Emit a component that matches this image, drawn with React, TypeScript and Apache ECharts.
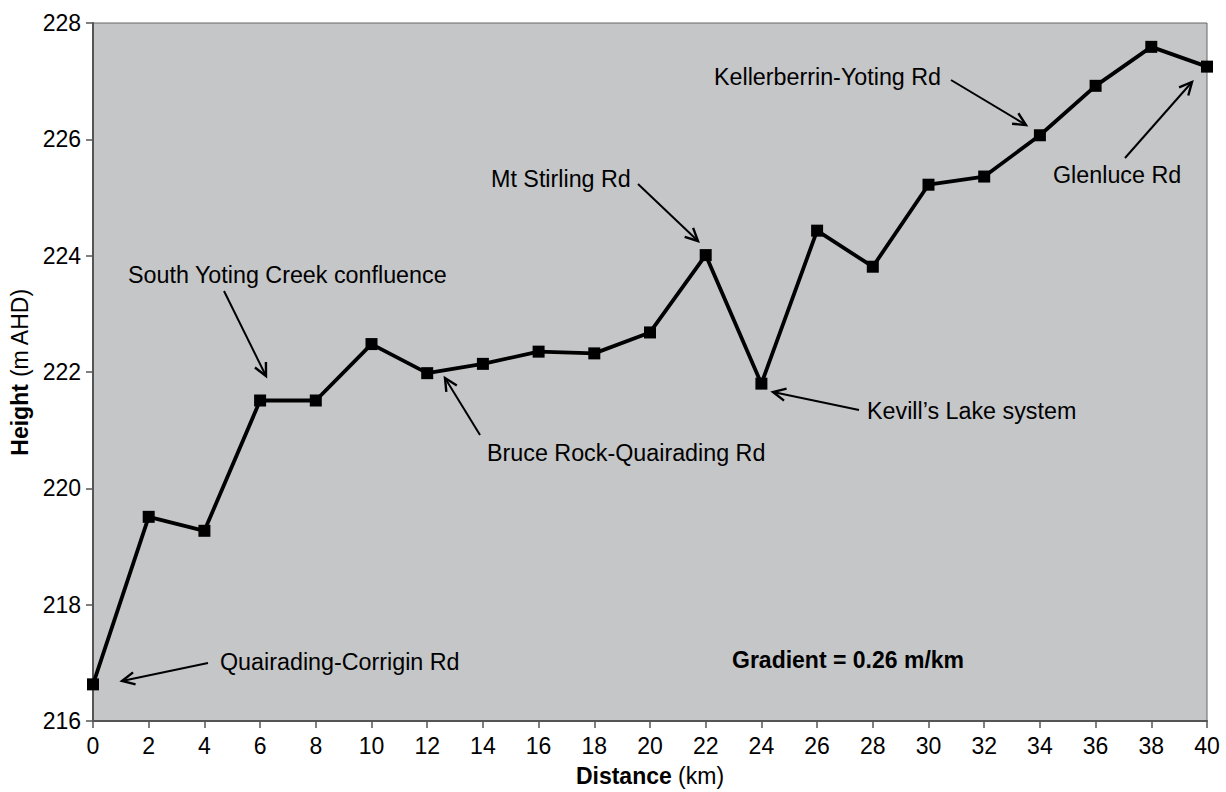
import React, { useEffect, useRef } from "react";
import * as echarts from "echarts";

const distances = [0, 2, 4, 6, 8, 10, 12, 14, 16, 18, 20, 22, 24, 26, 28, 30, 32, 34, 36, 38, 40];
const heights = [216.63, 219.51, 219.27, 221.51, 221.51, 222.48, 221.98, 222.14, 222.35, 222.32, 222.68, 224.01, 221.8, 224.43, 223.81, 225.22, 225.36, 226.07, 226.92, 227.59, 227.25];

const labels = [
  { text: "Quairading-Corrigin Rd", x: 220, y: 662 },
  { text: "South Yoting Creek confluence", x: 128, y: 275 },
  { text: "Bruce Rock-Quairading Rd", x: 487, y: 453 },
  { text: "Mt Stirling Rd", x: 491, y: 179 },
  { text: "Kevill\u2019s Lake system", x: 867, y: 411 },
  { text: "Kellerberrin-Yoting Rd", x: 714, y: 77 },
  { text: "Glenluce Rd", x: 1053, y: 175 },
];

const arrows = [
  { from: [208, 663], to: [122, 681] },
  { from: [224, 291], to: [266, 376] },
  { from: [480, 435], to: [445, 378] },
  { from: [638, 184], to: [698, 241] },
  { from: [859, 410], to: [773, 392] },
  { from: [951, 80], to: [1026, 125] },
  { from: [1125, 158], to: [1192, 82] },
];

const FONT = "Arial, 'Liberation Sans', sans-serif";

function arrowElements(from: number[], to: number[]) {
  const dx = to[0] - from[0];
  const dy = to[1] - from[1];
  const len = Math.sqrt(dx * dx + dy * dy);
  const ux = dx / len;
  const uy = dy / len;
  const L = 14;
  const ang = (26 * Math.PI) / 180;
  const c = Math.cos(ang);
  const s = Math.sin(ang);
  const b1 = [to[0] - L * (ux * c - uy * s), to[1] - L * (uy * c + ux * s)];
  const b2 = [to[0] - L * (ux * c + uy * s), to[1] - L * (uy * c - ux * s)];
  return [
    {
      type: "line",
      shape: { x1: from[0], y1: from[1], x2: to[0], y2: to[1] },
      style: { stroke: "#000", lineWidth: 2 },
      z: 100,
    },
    {
      type: "polyline",
      shape: { points: [b1, to, b2] },
      style: { stroke: "#000", lineWidth: 2.4, fill: null },
      z: 100,
    },
  ];
}

export default function App() {
  const ref = useRef<HTMLDivElement>(null);
  useEffect(() => {
    if (!ref.current) return;
    const chart = echarts.init(ref.current, null, { renderer: "svg" });
    const graphics: any[] = [];
    labels.forEach((l) => {
      graphics.push({
        type: "text",
        x: l.x,
        y: l.y,
        z: 100,
        style: {
          text: l.text,
          fill: "#000",
          fontSize: 23.3,
          fontFamily: FONT,
          align: "left",
          verticalAlign: "middle",
        },
      });
    });
    graphics.push({
      type: "text",
      x: 732,
      y: 660,
      z: 100,
      style: {
        text: "Gradient = 0.26 m/km",
        fill: "#000",
        fontSize: 23,
        fontWeight: "bold",
        fontFamily: FONT,
        align: "left",
        verticalAlign: "middle",
      },
    });
    arrows.forEach((a) => graphics.push(...arrowElements(a.from, a.to)));

    chart.setOption({
      animation: false,
      backgroundColor: "#fff",
      grid: {
        left: 93,
        right: 19,
        top: 23,
        bottom: 65,
        show: true,
        backgroundColor: "#c5c6c8",
        borderColor: "#666",
        borderWidth: 1,
      },
      xAxis: {
        type: "value",
        min: 0,
        max: 40,
        interval: 2,
        name: "{b|Distance} (km)",
        nameLocation: "middle",
        nameGap: 43,
        nameTextStyle: {
          fontSize: 23,
          fontFamily: FONT,
          color: "#000",
          rich: { b: { fontSize: 23, fontFamily: FONT, fontWeight: "bold", color: "#000" } },
        },
        axisLine: { show: true, lineStyle: { color: "#555", width: 2 } },
        axisTick: { show: true, inside: false, length: 7, lineStyle: { color: "#555", width: 1.5 } },
        axisLabel: { fontSize: 23, fontFamily: FONT, color: "#000", margin: 13 },
        splitLine: { show: false },
      },
      yAxis: {
        type: "value",
        min: 216,
        max: 228,
        interval: 2,
        name: "{b|Height} (m AHD)",
        nameLocation: "middle",
        nameRotate: 90,
        nameGap: 59,
        nameTextStyle: {
          fontSize: 23,
          fontFamily: FONT,
          color: "#000",
          rich: { b: { fontSize: 23, fontFamily: FONT, fontWeight: "bold", color: "#000" } },
        },
        axisLine: { show: true, lineStyle: { color: "#555", width: 2 } },
        axisTick: { show: true, inside: false, length: 7, lineStyle: { color: "#555", width: 1.5 } },
        axisLabel: { fontSize: 23, fontFamily: FONT, color: "#000", margin: 12 },
        splitLine: { show: false },
      },
      series: [
        {
          type: "line",
          data: distances.map((d, i) => [d, heights[i]]),
          symbol: "rect",
          symbolSize: 12,
          showSymbol: true,
          lineStyle: { color: "#000", width: 3.8 },
          itemStyle: { color: "#000" },
          clip: false,
          z: 5,
        },
      ],
      graphic: graphics,
    });
    return () => chart.dispose();
  }, []);
  return (
    <div
      ref={ref}
      style={{ position: "fixed", left: 0, top: 0, width: 1226, height: 792 }}
    />
  );
}
